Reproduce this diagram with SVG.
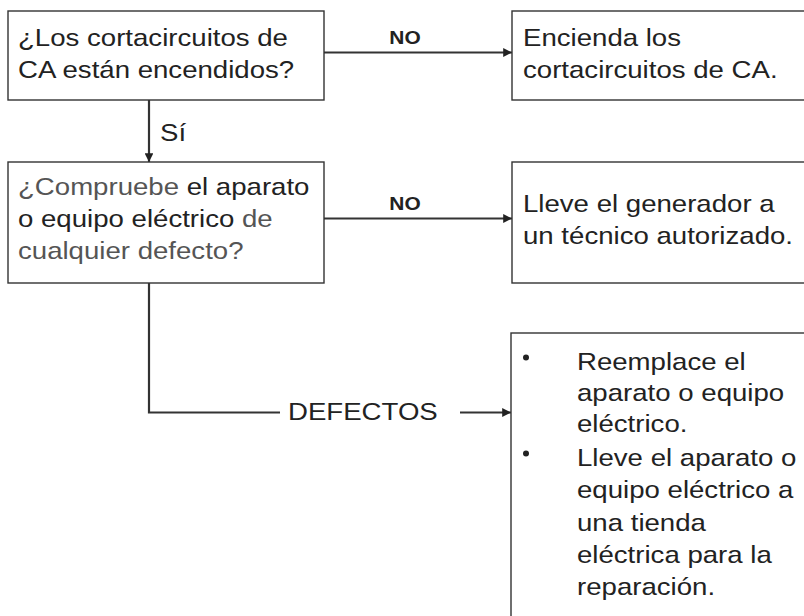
<svg xmlns="http://www.w3.org/2000/svg" width="804" height="616" viewBox="0 0 804 616">
<defs>
<style>
.box{fill:#fff;stroke:#333;stroke-width:1.4}
.t{font-family:"Liberation Sans",Arial,sans-serif;font-size:24px;fill:#222}
.g{fill:#555}
.lbl{font-family:"Liberation Sans",Arial,sans-serif;font-size:19px;font-weight:bold;fill:#222}
.ln{fill:none;stroke:#333;stroke-width:2.2}
</style>
<marker id="ah" viewBox="0 0 10 10" refX="10" refY="5" markerWidth="4" markerHeight="4" markerUnits="strokeWidth" orient="auto">
<path d="M0,0 L10,5 L0,10 z" fill="#222"/>
</marker>
</defs>
<rect width="804" height="616" fill="#fff"/>

<g id="connectors">
<line class="ln" x1="324" y1="52.5" x2="512" y2="52.5" marker-end="url(#ah)"/>
<line class="ln" x1="149" y1="100" x2="149" y2="162" marker-end="url(#ah)"/>
<line class="ln" x1="324" y1="218.5" x2="512" y2="218.5" marker-end="url(#ah)"/>
<polyline class="ln" points="149,283 149,412.5 280,412.5"/>
<line class="ln" x1="460" y1="412.5" x2="511" y2="412.5" marker-end="url(#ah)"/>
<text class="lbl" transform="translate(405,44) scale(1.1,1)" text-anchor="middle">NO</text>
<text class="lbl" transform="translate(405,210) scale(1.1,1)" text-anchor="middle">NO</text>
<text class="t" transform="translate(160,141) scale(1.15,1)">Sí</text>
<text class="t" transform="translate(288,420) scale(1.15,1)">DEFECTOS</text>
</g>

<g id="q1">
<rect class="box" x="8" y="11" width="316" height="89"/>
<text class="t" transform="translate(18,46) scale(1.15,1)">¿Los cortacircuitos de</text>
<text class="t" transform="translate(18,77.5) scale(1.15,1)">CA están encendidos?</text>
</g>

<g id="a1">
<rect class="box" x="512" y="11" width="310" height="89"/>
<text class="t" transform="translate(523,46) scale(1.15,1)">Encienda los</text>
<text class="t" transform="translate(523,77.5) scale(1.15,1)">cortacircuitos de CA.</text>
</g>

<g id="q2">
<rect class="box" x="8" y="162" width="316" height="121"/>
<text class="t" transform="translate(18,195) scale(1.15,1)"><tspan class="g">¿Compruebe</tspan> el aparato</text>
<text class="t" transform="translate(18,227) scale(1.15,1)">o equipo eléctrico <tspan class="g">de</tspan></text>
<text class="t g" transform="translate(18,259) scale(1.15,1)">cualquier defecto?</text>
</g>

<g id="a2">
<rect class="box" x="512" y="162" width="310" height="121"/>
<text class="t" transform="translate(523,212) scale(1.15,1)">Lleve el generador a</text>
<text class="t" transform="translate(523,243.5) scale(1.15,1)">un técnico autorizado.</text>
</g>

<g id="a3">
<rect class="box" x="511" y="333" width="310" height="300"/>
<circle cx="526" cy="357.5" r="3" fill="#222"/>
<circle cx="526" cy="453.5" r="3" fill="#222"/>
<text class="t" transform="translate(577,370) scale(1.15,1)">Reemplace el</text>
<text class="t" transform="translate(577,401) scale(1.15,1)">aparato o equipo</text>
<text class="t" transform="translate(577,432) scale(1.15,1)">eléctrico.</text>
<text class="t" transform="translate(577,466) scale(1.15,1)">Lleve el aparato o</text>
<text class="t" transform="translate(577,498) scale(1.15,1)">equipo eléctrico a</text>
<text class="t" transform="translate(577,530.5) scale(1.15,1)">una tienda</text>
<text class="t" transform="translate(577,563) scale(1.15,1)">eléctrica para la</text>
<text class="t" transform="translate(577,595) scale(1.15,1)">reparación.</text>
</g>
</svg>
